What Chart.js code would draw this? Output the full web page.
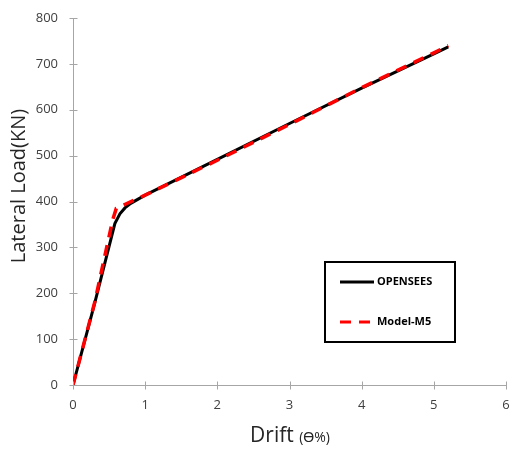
<!DOCTYPE html>
<html><head><meta charset="utf-8">
<style>html,body{margin:0;padding:0;background:#fff}#wrap{width:510px;height:449px}</style>
<script src="https://cdn.jsdelivr.net/npm/chart.js@4/dist/chart.umd.min.js"></script>
</head><body><div id="wrap"><canvas id="c" width="510" height="449"></canvas></div>
<script>
const seriesNames = ["OPENSEES", "Model-M5"];
const opDrift = [0, 0.3, 0.58, 0.65, 0.72, 0.8, 1.0, 2.0, 3.0, 4.0, 5.0, 5.2];
const opLoad  = [0, 178, 352, 373, 386, 396, 414, 492, 570, 647, 722, 737];
const m5Drift = [0, 0.3, 0.55, 0.6, 1.0, 2.0, 3.0, 4.0, 5.0, 5.2];
const m5Load  = [0, 180, 360, 385, 414, 490, 568, 648, 724, 740];
const xTicks = [0, 1, 2, 3, 4, 5, 6];
const yTicks = [0, 100, 200, 300, 400, 500, 600, 700, 800];
const yTitle = 'Lateral Load(KN)';
const xTitleMain = 'Drift ';
const xTitleUnit = '(ϴ%)';

const toPts = (xs, ys) => xs.map((x, i) => ({x, y: ys[i]}));
const AXIS = '#a6a6a6';
const FONT = '"Open Sans", "Liberation Sans", sans-serif';

const decor = {
  id: 'decor',
  afterDraw(chart) {
    const ctx = chart.ctx, xs = chart.scales.x, ys = chart.scales.y;
    ctx.save();
    ctx.strokeStyle = AXIS; ctx.lineWidth = 1;
    const x0 = Math.round(xs.getPixelForValue(0)) + 0.5;
    const y0 = Math.round(ys.getPixelForValue(0)) + 0.5;
    ctx.beginPath();
    yTicks.forEach(v => { const p = Math.round(ys.getPixelForValue(v)) + 0.5; ctx.moveTo(x0 - 4, p); ctx.lineTo(x0 + 4, p); });
    xTicks.forEach(v => { const p = Math.round(xs.getPixelForValue(v)) + 0.5; ctx.moveTo(p, y0 - 4); ctx.lineTo(p, y0 + 4); });
    ctx.stroke();
    // x title with mixed sizes
    ctx.fillStyle = '#262626';
    ctx.textBaseline = 'alphabetic';
    ctx.font = '21px ' + FONT;
    const w1 = ctx.measureText(xTitleMain).width;
    ctx.font = '14px ' + FONT;
    const w2 = ctx.measureText(xTitleUnit).width;
    const cx = 290, by = 442;
    const sx = cx - (w1 + w2) / 2;
    ctx.font = '21px ' + FONT;
    ctx.fillText(xTitleMain, sx, by);
    ctx.font = '14px ' + FONT;
    ctx.fillText(xTitleUnit, sx + w1, by);
    // y title
    ctx.save();
    ctx.translate(19, 186);
    ctx.rotate(-Math.PI / 2);
    ctx.font = '20px ' + FONT;
    ctx.textAlign = 'center';
    ctx.textBaseline = 'middle';
    ctx.fillText(yTitle, 0, 0);
    ctx.restore();
    // legend
    const lx = 325, ly = 262, lw = 130, lh = 80;
    ctx.strokeStyle = '#000'; ctx.lineWidth = 2;
    ctx.strokeRect(lx, ly, lw, lh);
    const order = [1, 0];
    order.forEach((di, i) => {
      const ds = chart.data.datasets[di];
      const yy = i === 0 ? 282 : 322;
      ctx.beginPath();
      ctx.strokeStyle = ds.borderColor; ctx.lineWidth = 3;
      ctx.setLineDash(ds.borderDash || []);
      ctx.moveTo(340, yy); ctx.lineTo(374, yy); ctx.stroke();
      ctx.setLineDash([]);
      ctx.fillStyle = '#000';
      ctx.font = 'bold 11px ' + FONT;
      ctx.textBaseline = 'middle';
      ctx.fillText(ds.label, 377, yy);
    });
    ctx.restore();
  }
};

new Chart(document.getElementById('c'), {
  type: 'scatter',
  data: {
    datasets: [
      { label: seriesNames[1], data: toPts(m5Drift, m5Load), showLine: true, borderColor: '#ff0000', borderWidth: 3.5, borderDash: [11, 8], pointRadius: 0, tension: 0, order: 0 },
      { label: seriesNames[0], data: toPts(opDrift, opLoad), showLine: true, borderColor: '#000000', borderWidth: 3, pointRadius: 0, tension: 0, order: 1 }
    ]
  },
  options: {
    responsive: false, animation: false,
    layout: { padding: { top: 18, right: 4, left: 0, bottom: 0 } },
    plugins: { legend: { display: false }, tooltip: { enabled: false } },
    scales: {
      x: {
        type: 'linear', min: 0, max: 6,
        afterBuildTicks: s => { s.ticks = xTicks.map(v => ({value: v})); },
        afterFit: s => { s.height = 64; s.paddingRight = 0; s.paddingLeft = 0; },
        grid: { display: false, drawTicks: false },
        border: { display: true, color: AXIS, width: 1 },
        ticks: { padding: 12, color: '#404040', font: { size: 13, family: FONT } }
      },
      y: {
        type: 'linear', min: 0, max: 800,
        afterBuildTicks: s => { s.ticks = yTicks.map(v => ({value: v})); },
        afterFit: s => { s.width = 73; s.paddingTop = 0; s.paddingBottom = 0; },
        grid: { display: false, drawTicks: false },
        border: { display: true, color: AXIS, width: 1 },
        ticks: { padding: 15, color: '#404040', font: { size: 13, family: FONT } }
      }
    }
  },
  plugins: [decor]
});
</script></body></html>
